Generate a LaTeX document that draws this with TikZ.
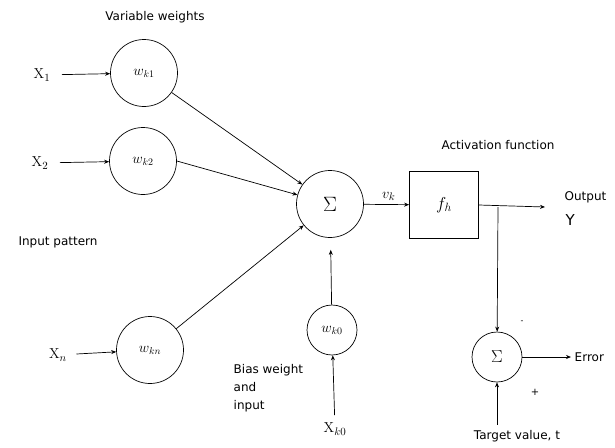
\documentclass[tikz,border=0pt]{standalone}
\usepackage[no-math]{fontspec}
\setmainfont{DejaVu Sans}
\usetikzlibrary{arrows.meta,positioning}

\begin{document}
\begin{tikzpicture}[
  x=1pt,y=-1pt,
  every path/.style={-{Stealth[length=5pt,width=4pt]},line width=0.7pt},
  wcirc/.style={draw,circle,inner sep=0pt,minimum size=67pt,font=\fontsize{14}{16}\selectfont},
  small circ/.style={wcirc,minimum size=50pt},
  lbl/.style={font=\fontsize{12}{18}\selectfont,align=left},
  inp/.style={font=\fontsize{15}{17}\selectfont}
]
\useasboundingbox (0,0) rectangle (615,447);
% weights
\node[wcirc] (w1) at (144,73) {$w_{k1}$};
\node[wcirc] (w2) at (143,161) {$w_{k2}$};
\node[wcirc] (wn) at (150,350) {$w_{kn}$};
\node[small circ] (w0) at (332,330) {$w_{k0}$};
% summing junction and activation
\node[wcirc,font=\fontsize{20.74}{22}\selectfont] (sum) at (330,204) {$\Sigma$};
\node[draw,minimum width=69pt,minimum height=67pt,inner sep=0pt,
  font=\fontsize{17.28}{19}\selectfont] (act) at (444,205) {$f_h$};
\node[small circ,font=\fontsize{17.28}{19}\selectfont] (err) at (497,357) {$\Sigma$};
% inputs
\node[inp] (x1) at (42,75) {$\mathrm{X}_1$};
\node[inp] (x2) at (40,163) {$\mathrm{X}_2$};
\node[inp] (xn) at (58,355) {$\mathrm{X}_n$};
\node[inp] (x0) at (335,429) {$\mathrm{X}_{k0}$};
% texts
\node[lbl] (varw) at (155,17) {Variable weights};
\node[lbl] (inpat) at (58,242) {Input pattern};
\node[lbl,anchor=north west] (bias) at (230,361) {Bias weight\\and\\ input};
\node[lbl] (actfn) at (498,145) {Activation function};
\node[lbl,anchor=west] (outlbl) at (561,197) {Output};
\node[inp,anchor=west] (ylbl) at (562,220) {Y};
\node[lbl,anchor=west] (errlbl) at (571,357) {Error};
\node[lbl] (tgt) at (517,436) {Target value, t};
\node[font=\fontsize{8}{9}\selectfont] (minus) at (522,322) {-};
\node[font=\fontsize{10}{11}\selectfont] (plus) at (535,392) {+};
\coordinate (outend) at (545,207);
\coordinate (split) at (498,207);
% connectors
\draw[shorten <=8pt] (x1) -- (w1);
\draw[shorten <=8pt] (x2) -- (w2);
\draw[shorten <=6pt] (xn) -- (wn);
\draw (w1) -- (sum);
\draw (w2.east) -- (sum);
\draw (wn) -- (sum);
\draw[shorten <=4pt] (x0) -- (w0);
\draw[shorten >=12pt] (w0) -- (sum);
\draw (sum) -- node[above,inp,pos=0.55] (vk) {$v_k$} (act);
\draw (act.east) -- (outend);
\draw (split) -- (err);
\draw (err) -- (errlbl);
\draw[shorten <=2pt] (tgt.north -| err) -- (err);
\end{tikzpicture}
\end{document}
